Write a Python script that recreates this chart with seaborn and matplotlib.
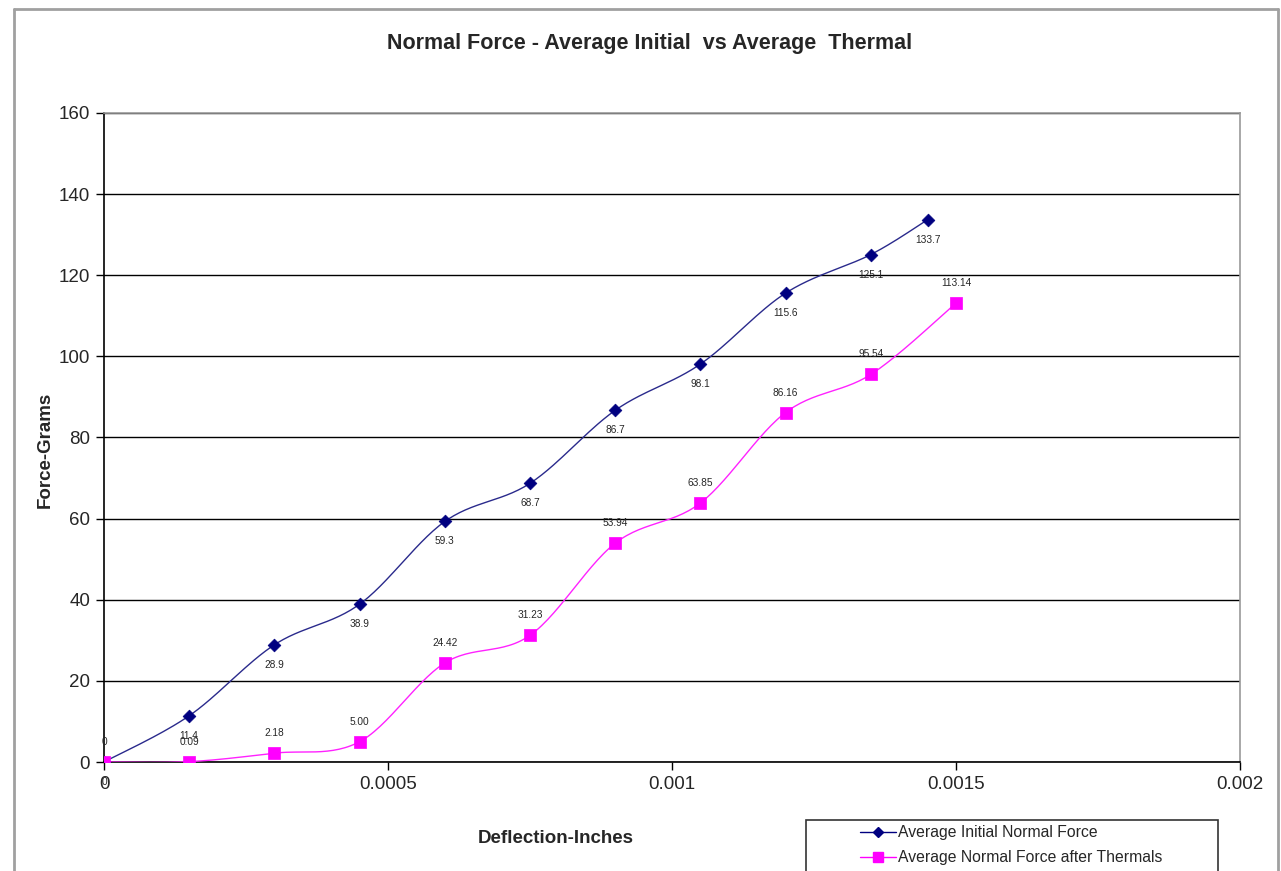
import numpy as np
import pandas as pd
import seaborn as sns
import matplotlib.pyplot as plt
from matplotlib.lines import Line2D
from matplotlib.patches import Rectangle

# Data
x_initial = [0, 0.00015, 0.0003, 0.00045, 0.0006, 0.00075, 0.0009, 0.00105, 0.0012, 0.00135, 0.00145]
y_initial = [0, 11.4, 28.9, 38.9, 59.3, 68.7, 86.7, 98.1, 115.6, 125.1, 133.7]
lbl_initial = ["0", "11.4", "28.9", "38.9", "59.3", "68.7", "86.7", "98.1", "115.6", "125.1", "133.7"]

x_thermal = [0, 0.00015, 0.0003, 0.00045, 0.0006, 0.00075, 0.0009, 0.00105, 0.0012, 0.00135, 0.0015]
y_thermal = [0, 0.09, 2.18, 5.00, 24.42, 31.23, 53.94, 63.85, 86.16, 95.54, 113.14]
lbl_thermal = ["0", "0.09", "2.18", "5.00", "24.42", "31.23", "53.94", "63.85", "86.16", "95.54", "113.14"]

x_ticks = [0, 0.0005, 0.001, 0.0015, 0.002]
x_ticklabels = ["0", "0.0005", "0.001", "0.0015", "0.002"]
y_ticks = [0, 20, 40, 60, 80, 100, 120, 140, 160]

names = ["Average Initial Normal Force", "Average Normal Force after Thermals"]
colors = ["#000080", "#FF00FF"]
line_colors = ["#2a2a8c", "#FF22FF"]

df = pd.concat([
    pd.DataFrame({"x": x_initial, "y": y_initial, "series": names[0]}),
    pd.DataFrame({"x": x_thermal, "y": y_thermal, "series": names[1]}),
])


def smooth(xs, ys, sx, sy, n=30):
    # Catmull-Rom style curve like Excel's smoothed line, done in screen-ish units
    px = np.asarray(xs) * sx
    py = np.asarray(ys) * sy
    outx, outy = [], []
    for i in range(len(px) - 1):
        p0 = np.array([px[max(i - 1, 0)], py[max(i - 1, 0)]])
        p1 = np.array([px[i], py[i]])
        p2 = np.array([px[i + 1], py[i + 1]])
        p3 = np.array([px[min(i + 2, len(px) - 1)], py[min(i + 2, len(px) - 1)]])
        c1 = p1 + (p2 - p0) / 6
        c2 = p2 - (p3 - p1) / 6
        t = np.linspace(0, 1, n)[:, None]
        b = (1 - t) ** 3 * p1 + 3 * (1 - t) ** 2 * t * c1 + 3 * (1 - t) * t ** 2 * c2 + t ** 3 * p2
        outx.extend(b[:, 0] / sx)
        outy.extend(b[:, 1] / sy)
    return outx, outy


sns.set_style("white")
plt.rcParams["font.family"] = ["Liberation Sans", "DejaVu Sans"]

fig = plt.figure(figsize=(12.81, 8.71), dpi=100)
ax = fig.add_axes([104 / 1281, 1 - 762 / 871, 1136 / 1281, 649 / 871])

sx = 1136 / 0.002
sy = 649 / 160
for name, color, lc, marker, ms in zip(names, colors, line_colors, ["D", "s"], [6.5, 8]):
    sub = df[df["series"] == name]
    cx, cy = smooth(sub["x"], sub["y"], sx, sy)
    sns.lineplot(x=cx, y=cy, ax=ax, color=lc, linewidth=1, sort=False, zorder=3)
    sns.scatterplot(data=sub, x="x", y="y", ax=ax, color=color, marker=marker,
                    s=ms ** 2, edgecolor=color, linewidth=0.5, zorder=4, legend=False)

# data labels: initial below, thermal above
for xv, yv, t in zip(x_initial, y_initial, lbl_initial):
    ax.annotate(t, (xv, yv), xytext=(0, -20), textcoords="offset pixels",
                ha="center", va="center", fontsize=7.3, zorder=5)
for xv, yv, t in zip(x_thermal, y_thermal, lbl_thermal):
    ax.annotate(t, (xv, yv), xytext=(0, 20), textcoords="offset pixels",
                ha="center", va="center", fontsize=7.3, zorder=5)

ax.set_xlim(0, 0.002)
ax.set_ylim(0, 160)
ax.set_xticks(x_ticks)
ax.set_xticklabels(x_ticklabels)
ax.set_yticks(y_ticks)
ax.tick_params(axis="both", labelsize=13.5, direction="out", length=6, width=1,
               color="black", bottom=True, left=True, pad=4)
ax.yaxis.grid(True, color="black", linewidth=1)
ax.xaxis.grid(False)
ax.set_axisbelow(True)
for side in ["left", "bottom"]:
    ax.spines[side].set_color("black")
    ax.spines[side].set_linewidth(1.2)
for side in ["top", "right"]:
    ax.spines[side].set_color("#999999")
    ax.spines[side].set_linewidth(1.2)
ax.set_xlabel("")
ax.set_ylabel("")

fig.text(0.507, 1 - 44 / 871, "Normal Force - Average Initial  vs Average  Thermal",
         ha="center", va="center", fontsize=15.5, fontweight="bold")
fig.text(556 / 1281, 1 - 838 / 871, "Deflection-Inches", ha="center", va="center",
         fontsize=13.5, fontweight="bold")
fig.text(45 / 1281, 1 - 450 / 871, "Force-Grams", ha="center", va="center",
         fontsize=13.5, fontweight="bold", rotation=90)

# outer chart frame
for xy in [([14 / 1281, 14 / 1281], [0, 1 - 9 / 871]),
           ([14 / 1281, 1278 / 1281], [1 - 9 / 871, 1 - 9 / 871]),
           ([1278 / 1281, 1278 / 1281], [0, 1 - 9 / 871])]:
    fig.add_artist(Line2D(xy[0], xy[1], color="#a0a0a0", linewidth=2, transform=fig.transFigure))

# legend box
fig.add_artist(Rectangle((806 / 1281, -0.01), 412 / 1281, (870 - 819) / 871 + 0.01,
                         transform=fig.transFigure, facecolor="white", edgecolor="#333333",
                         linewidth=1.2, zorder=5))
handles = [Line2D([], [], color=colors[0], marker="D", markersize=5, linewidth=1),
           Line2D([], [], color=colors[1], marker="s", markersize=6.5, linewidth=1)]
fig.legend(handles, names, loc="upper left", bbox_to_anchor=(860 / 1281, 1 - 825 / 871),
           frameon=False, fontsize=11.3, handlelength=2.3, handletextpad=0.15,
           labelspacing=0.65, borderaxespad=0, borderpad=0)

fig.savefig("out.png", dpi=100, facecolor="white")
